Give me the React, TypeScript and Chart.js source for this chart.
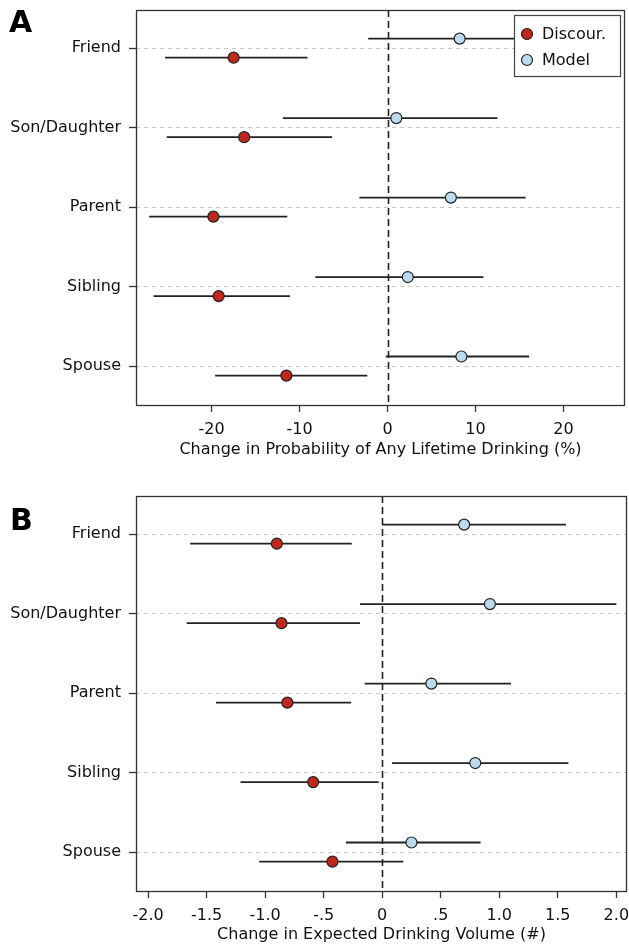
import React, { useEffect, useRef } from "react";
import { Chart, registerables } from "chart.js";
Chart.register(...registerables);

const categories = ["Friend", "Son/Daughter", "Parent", "Sibling", "Spouse"];
const seriesNames = ["Discour.", "Model"];

// Panel A: Change in Probability of Any Lifetime Drinking (%)
const aDiscourEst = [-17.5, -16.3, -19.8, -19.2, -11.5];
const aDiscourLo = [-25.3, -25.1, -27.1, -26.6, -19.6];
const aDiscourHi = [-9.1, -6.3, -11.4, -11.1, -2.3];
const aModelEst = [8.2, 1.0, 7.2, 2.3, 8.4];
const aModelLo = [-2.2, -11.9, -3.2, -8.2, -0.2];
const aModelHi = [18.5, 12.5, 15.7, 10.9, 16.1];
const aTicks = [-20, -10, 0, 10, 20];
const aTickLabels = ["-20", "-10", "0", "10", "20"];

// Panel B: Change in Expected Drinking Volume (#)
const bDiscourEst = [-0.9, -0.86, -0.81, -0.59, -0.425];
const bDiscourLo = [-1.64, -1.67, -1.42, -1.21, -1.05];
const bDiscourHi = [-0.26, -0.19, -0.265, -0.03, 0.18];
const bModelEst = [0.7, 0.92, 0.42, 0.795, 0.25];
const bModelLo = [0.0, -0.19, -0.15, 0.083, -0.31];
const bModelHi = [1.57, 2.0, 1.1, 1.59, 0.84];
const bTicks = [-2, -1.5, -1, -0.5, 0, 0.5, 1, 1.5, 2];
const bTickLabels = ["-2.0", "-1.5", "-1.0", "-.5", "0", ".5", "1.0", "1.5", "2.0"];

const RED = "#c1281d";
const BLUE = "#bcdcee";
const INK = "#222";
const FONT = "'DejaVu Sans', sans-serif";
const FS = 16;
const OFFSET = 0.12;

type PanelProps = {
  top: number;
  height: number;
  padTop: number;
  padRight: number;
  xHeight: number;
  xMin: number;
  xMax: number;
  ticks: number[];
  tickLabels: string[];
  title: string;
  titlePadBottom: number;
  dEst: number[];
  dLo: number[];
  dHi: number[];
  mEst: number[];
  mLo: number[];
  mHi: number[];
  legend: boolean;
};

function Panel(p: PanelProps) {
  const ref = useRef<HTMLCanvasElement | null>(null);
  useEffect(() => {
    if (!ref.current) return;
    const overlay = {
      id: "forestOverlay",
      beforeDatasetsDraw(chart: any) {
        const { ctx, chartArea, scales } = chart;
        const xs = scales.x;
        const ys = scales.y;
        ctx.save();
        const x0 = Math.round(xs.getPixelForValue(0)) + 0.5;
        ctx.strokeStyle = INK;
        ctx.lineWidth = 1.6;
        ctx.setLineDash([7, 4]);
        ctx.beginPath();
        ctx.moveTo(x0, chartArea.top);
        ctx.lineTo(x0, chartArea.bottom);
        ctx.stroke();
        ctx.setLineDash([]);
        ctx.lineWidth = 1.8;
        ctx.strokeStyle = INK;
        const drawCI = (lo: number[], hi: number[], off: number) => {
          for (let i = 0; i < categories.length; i++) {
            const y = ys.getPixelForValue(i + 1 + off);
            ctx.beginPath();
            ctx.moveTo(xs.getPixelForValue(lo[i]), y);
            ctx.lineTo(xs.getPixelForValue(hi[i]), y);
            ctx.stroke();
          }
        };
        drawCI(p.dLo, p.dHi, OFFSET);
        drawCI(p.mLo, p.mHi, -OFFSET);
        ctx.restore();
      },
      afterDatasetsDraw(chart: any) {
        const { ctx, chartArea } = chart;
        ctx.save();
        ctx.strokeStyle = "#333";
        ctx.lineWidth = 1.3;
        ctx.strokeRect(
          Math.round(chartArea.left) + 0.5,
          Math.round(chartArea.top) + 0.5,
          Math.round(chartArea.right - chartArea.left) - 1,
          Math.round(chartArea.bottom - chartArea.top)
        );
        ctx.restore();
      },
      afterDraw(chart: any) {
        if (!p.legend) return;
        const { ctx, chartArea } = chart;
        const w = 106;
        const h = 61;
        const bx = chartArea.right - 5 - w;
        const by = chartArea.top + 5;
        ctx.save();
        ctx.fillStyle = "#fff";
        ctx.fillRect(bx, by, w, h);
        ctx.strokeStyle = "#444";
        ctx.lineWidth = 1.2;
        ctx.strokeRect(bx + 0.5, by + 0.5, w, h);
        const ds = chart.data.datasets;
        ds.forEach((d: any, i: number) => {
          const cy = by + 19 + i * 26;
          ctx.beginPath();
          ctx.arc(bx + 13, cy, 5.5, 0, Math.PI * 2);
          ctx.fillStyle = d.backgroundColor;
          ctx.fill();
          ctx.lineWidth = 1.2;
          ctx.strokeStyle = INK;
          ctx.stroke();
          ctx.fillStyle = "#111";
          ctx.font = `${FS}px ${FONT}`;
          ctx.textBaseline = "middle";
          ctx.textAlign = "left";
          ctx.fillText(d.label, bx + 28, cy + 1);
        });
        ctx.restore();
      },
    };

    const chart = new Chart(ref.current, {
      type: "scatter",
      data: {
        datasets: [
          {
            label: seriesNames[0],
            data: p.dEst.map((v, i) => ({ x: v, y: i + 1 + OFFSET })),
            backgroundColor: RED,
            borderColor: INK,
            borderWidth: 1.2,
            pointRadius: 5.5,
          },
          {
            label: seriesNames[1],
            data: p.mEst.map((v, i) => ({ x: v, y: i + 1 - OFFSET })),
            backgroundColor: BLUE,
            borderColor: INK,
            borderWidth: 1.2,
            pointRadius: 5.5,
          },
        ],
      },
      options: {
        responsive: false,
        animation: false,
        layout: { autoPadding: false, padding: { top: p.padTop, right: p.padRight, left: 0, bottom: 0 } },
        plugins: { legend: { display: false }, tooltip: { enabled: false } },
        scales: {
          x: {
            type: "linear",
            min: p.xMin,
            max: p.xMax,
            afterBuildTicks: (s: any) => {
              s.ticks = p.ticks.map((v) => ({ value: v }));
            },
            afterFit: (s: any) => {
              s.height = p.xHeight;
              s.paddingLeft = 0;
              s.paddingRight = 0;
            },
            ticks: {
              autoSkip: false,
              maxRotation: 0,
              padding: 8,
              color: "#111",
              font: { family: FONT, size: FS },
              callback: (v: any) => {
                const idx = p.ticks.findIndex((t) => Math.abs(t - v) < 1e-9);
                return idx >= 0 ? p.tickLabels[idx] : "";
              },
            },
            grid: {
              drawOnChartArea: false,
              drawTicks: true,
              tickLength: 7,
              tickColor: "#333",
              tickWidth: 1.3,
            },
            border: { display: false },
            title: {
              display: true,
              text: p.title,
              color: "#111",
              font: { family: FONT, size: FS },
              padding: { top: 0, bottom: p.titlePadBottom },
            },
          },
          y: {
            type: "linear",
            min: 0.52,
            max: 5.49,
            reverse: true,
            afterBuildTicks: (s: any) => {
              s.ticks = categories.map((_, i) => ({ value: i + 1 }));
            },
            afterFit: (s: any) => {
              s.width = 136;
              s.paddingTop = 0;
              s.paddingBottom = 0;
            },
            ticks: {
              autoSkip: false,
              padding: 8,
              color: "#111",
              font: { family: FONT, size: FS },
              callback: (v: any) => categories[Math.round(v) - 1] ?? "",
            },
            grid: {
              drawOnChartArea: true,
              drawTicks: true,
              tickLength: 7,
              color: "#c8c8c8",
              lineWidth: 1,
              tickColor: "#333",
              tickWidth: 1.3,
            },
            border: { display: false, dash: [4, 4] },
          },
        },
      },
      plugins: [overlay],
    } as any);
    return () => chart.destroy();
  }, []);

  return (
    <canvas
      ref={ref}
      width={629}
      height={p.height}
      style={{ position: "absolute", left: 0, top: p.top, width: 629, height: p.height, display: "block" }}
    />
  );
}

export default function App() {
  const letter: React.CSSProperties = {
    position: "absolute",
    left: 9,
    fontFamily: FONT,
    fontWeight: "bold",
    fontSize: 30,
    lineHeight: "30px",
    color: "#000",
  };
  return (
    <div style={{ position: "absolute", left: 0, top: 0, width: 629, height: 944, background: "#fff", overflow: "hidden" }}>
      <Panel
        top={0}
        height={465}
        padTop={10}
        padRight={4}
        xHeight={60}
        xMin={-28.6}
        xMax={27.0}
        ticks={aTicks}
        tickLabels={aTickLabels}
        title="Change in Probability of Any Lifetime Drinking (%)"
        titlePadBottom={6}
        dEst={aDiscourEst}
        dLo={aDiscourLo}
        dHi={aDiscourHi}
        mEst={aModelEst}
        mLo={aModelLo}
        mHi={aModelHi}
        legend={true}
      />
      <Panel
        top={465}
        height={479}
        padTop={31}
        padRight={2}
        xHeight={53}
        xMin={-2.103}
        xMax={2.091}
        ticks={bTicks}
        tickLabels={bTickLabels}
        title="Change in Expected Drinking Volume (#)"
        titlePadBottom={0}
        dEst={bDiscourEst}
        dLo={bDiscourLo}
        dHi={bDiscourHi}
        mEst={bModelEst}
        mLo={bModelLo}
        mHi={bModelHi}
        legend={false}
      />
      <div style={{ ...letter, top: 7 }}>A</div>
      <div style={{ ...letter, top: 505, left: 10 }}>B</div>
    </div>
  );
}
